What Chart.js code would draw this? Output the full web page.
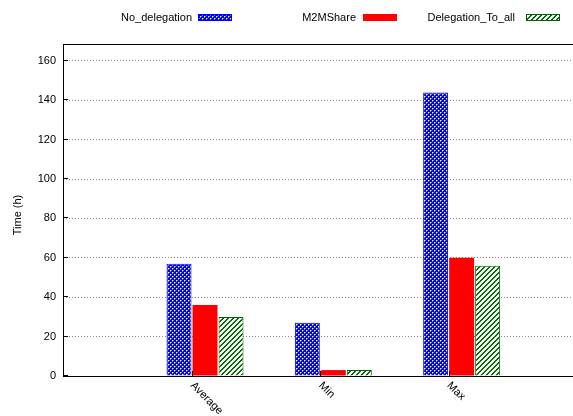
<!DOCTYPE html>
<html>
<head>
<meta charset="utf-8">
<script src="https://cdn.jsdelivr.net/npm/chart.js@4/dist/chart.umd.min.js"></script>
<style>
  html, body { margin: 0; padding: 0; background: #fff; }
  #wrap { width: 573px; height: 416px; }
</style>
</head>
<body>
<div id="wrap"><canvas id="chart" width="573" height="416"></canvas></div>
<script>
// Measured completion times per strategy (hours)
const categories = ['Average', 'Min', 'Max'];
const seriesNames = ['No_delegation', 'M2MShare', 'Delegation_To_all'];
const noDelegation = [57, 27, 144];
const m2mShare = [36, 3, 60];
const delegationToAll = [30, 3, 56];
const yTickValues = [0, 20, 40, 60, 80, 100, 120, 140, 160];

const FONT = '"Liberation Sans", Arial, Helvetica, sans-serif';

// Fill patterns in the gnuplot style
function makePattern(size, painter) {
  const c = document.createElement('canvas');
  c.width = size; c.height = size;
  const g = c.getContext('2d');
  g.fillStyle = '#fff';
  g.fillRect(0, 0, size, size);
  painter(g, size);
  return g.createPattern(c, 'repeat');
}
// blue field with staggered white holes
const crossHatch = makePattern(4, (g, s) => {
  g.fillStyle = '#0000ff';
  g.fillRect(0, 0, s, s);
  g.fillStyle = '#ffffff';
  [[0, 0], [2, 2]].forEach(([x, y]) => g.fillRect(x, y, 1, 1));
  g.fillStyle = 'rgba(255,255,255,0.45)';
  [[1, 0], [0, 1], [3, 2], [2, 3]].forEach(([x, y]) => g.fillRect(x, y, 1, 1));
});
// green "/" hatching
const diagHatch = makePattern(5, (g, s) => {
  g.fillStyle = '#007000';
  for (let x = 0; x < s; x++) {
    for (let y = 0; y < s; y++) {
      const a = (x + y) % 5;
      if (a === 0 || a === 1) g.fillRect(x, y, 1, 1);
    }
  }
});

const toPoints = arr => arr.map((v, i) => ({ x: i, y: v }));

const datasets = [
  { label: seriesNames[0], data: toPoints(noDelegation), backgroundColor: crossHatch, borderColor: '#0000ff', borderWidth: 1 },
  { label: seriesNames[1], data: toPoints(m2mShare), backgroundColor: '#ff0000', borderColor: '#ff0000', borderWidth: 0 },
  { label: seriesNames[2], data: toPoints(delegationToAll), backgroundColor: diagHatch, borderColor: '#006400', borderWidth: 1 }
];

// Frame, inward ticks, rotated category labels, axis title and key
const decorations = {
  id: 'decorations',
  afterDatasetsDraw(chart) {
    const { ctx, chartArea: a } = chart;
    const xs = chart.scales.x, ys = chart.scales.y;
    ctx.save();
    ctx.strokeStyle = '#000';
    ctx.lineWidth = 1;
    ctx.setLineDash([]);
    // frame: top and left
    ctx.beginPath();
    ctx.moveTo(a.left, a.top + 0.5);
    ctx.lineTo(a.right, a.top + 0.5);
    ctx.moveTo(a.left + 0.5, a.top);
    ctx.lineTo(a.left + 0.5, a.bottom);
    ctx.stroke();
    // inward y ticks
    yTickValues.forEach(v => {
      const y = Math.round(ys.getPixelForValue(v)) - 0.5;
      ctx.beginPath();
      ctx.moveTo(a.left, y);
      ctx.lineTo(a.left + 5, y);
      ctx.stroke();
    });
    // x ticks
    categories.forEach((c, i) => {
      const x = Math.round(xs.getPixelForValue(i)) - 13 + 0.5;
      ctx.beginPath();
      ctx.moveTo(x, a.bottom);
      ctx.lineTo(x, a.bottom - 5);
      ctx.stroke();
    });
    // rotated category labels
    ctx.fillStyle = '#000';
    ctx.font = '11px ' + FONT;
    ctx.textAlign = 'left';
    ctx.textBaseline = 'top';
    categories.forEach((c, i) => {
      const x = xs.getPixelForValue(i) - 9;
      ctx.save();
      ctx.translate(x, a.bottom + 4);
      ctx.rotate(Math.PI / 4);
      ctx.fillText(c, 0, 0);
      ctx.restore();
    });
    // y axis title
    ctx.save();
    ctx.translate(18, 215);
    ctx.rotate(-Math.PI / 2);
    ctx.textAlign = 'center';
    ctx.textBaseline = 'middle';
    ctx.fillText('Time (h)', 0, 0);
    ctx.restore();
    // key
    const keyTextRight = [192, 356, 515];
    const keySwatchLeft = [198, 363, 526];
    const keyWidth = 34, keyTop = 14, keyH = 7;
    chart.data.datasets.forEach((ds, i) => {
      ctx.textAlign = 'right';
      ctx.textBaseline = 'middle';
      ctx.fillStyle = '#000';
      ctx.fillText(ds.label, keyTextRight[i], 18);
      ctx.fillStyle = ds.backgroundColor;
      ctx.fillRect(keySwatchLeft[i], keyTop, keyWidth, keyH);
      if (ds.borderWidth) {
        ctx.strokeStyle = ds.borderColor;
        ctx.strokeRect(keySwatchLeft[i] + 0.5, keyTop + 0.5, keyWidth - 1, keyH - 1);
      }
    });
    ctx.restore();
  }
};

new Chart(document.getElementById('chart'), {
  type: 'bar',
  data: { datasets },
  options: {
    responsive: false,
    animation: false,
    devicePixelRatio: 1,
    categoryPercentage: 0.608,
    barPercentage: 0.96,
    layout: { padding: { top: 44, right: 0, left: 0, bottom: 0 } },
    plugins: { legend: { display: false }, tooltip: { enabled: false } },
    scales: {
      x: {
        type: 'linear',
        offset: false,
        min: -1.107,
        max: 2.868,
        afterBuildTicks: s => { s.ticks = categories.map((c, i) => ({ value: i })); },
        afterFit: s => { s.height = 40; },
        ticks: { display: false },
        grid: { display: false, offset: false },
        border: { display: true, color: '#000', width: 1 }
      },
      y: {
        min: 0,
        max: 168.6,
        afterBuildTicks: s => { s.ticks = yTickValues.map(v => ({ value: v })); },
        afterFit: s => { s.width = 63; },
        ticks: { padding: 7, color: '#000', font: { family: FONT, size: 11 } },
        grid: { color: '#8a8a8a', drawTicks: false, lineWidth: 1 },
        border: { display: false, dash: [1, 2] }
      }
    }
  },
  plugins: [decorations]
});
</script>
</body>
</html>
